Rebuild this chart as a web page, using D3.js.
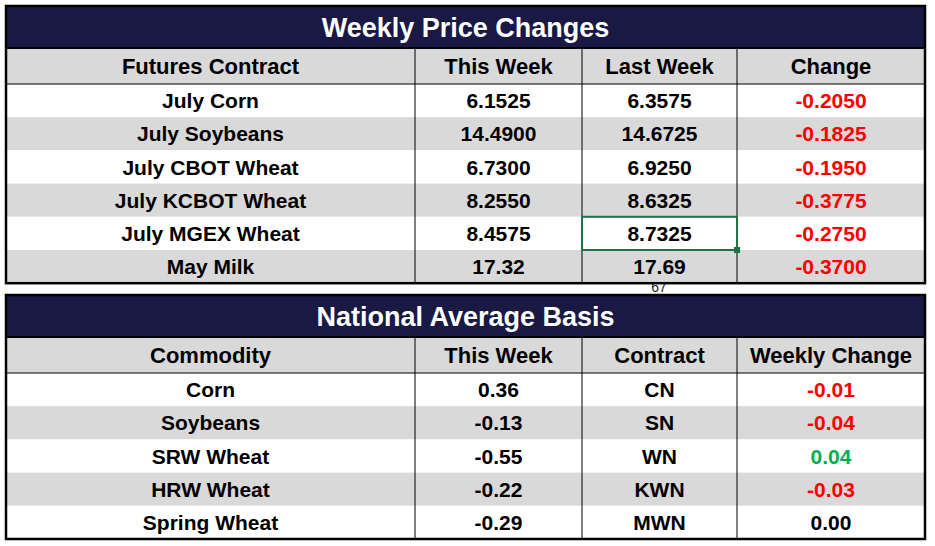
<!DOCTYPE html>
<html><head><meta charset="utf-8">
<script src="https://cdn.jsdelivr.net/npm/d3@7"></script>
<style>body{margin:0;background:#fff}text{font-family:"Liberation Sans",Arial,sans-serif;font-weight:bold}</style>
</head><body><svg id="chart" width="935" height="546"></svg>
<script>
const priceHeaders = ['Futures Contract', 'This Week', 'Last Week', 'Change'];
const contracts = ['July Corn', 'July Soybeans', 'July CBOT Wheat', 'July KCBOT Wheat', 'July MGEX Wheat', 'May Milk'];
const thisWeek = ['6.1525', '14.4900', '6.7300', '8.2550', '8.4575', '17.32'];
const lastWeek = ['6.3575', '14.6725', '6.9250', '8.6325', '8.7325', '17.69'];
const change = ['-0.2050', '-0.1825', '-0.1950', '-0.3775', '-0.2750', '-0.3700'];

const basisHeaders = ['Commodity', 'This Week', 'Contract', 'Weekly Change'];
const commodities = ['Corn', 'Soybeans', 'SRW Wheat', 'HRW Wheat', 'Spring Wheat'];
const basisWeek = ['0.36', '-0.13', '-0.55', '-0.22', '-0.29'];
const basisContract = ['CN', 'SN', 'WN', 'KWN', 'MWN'];
const basisChange = ['-0.01', '-0.04', '0.04', '-0.03', '0.00'];

const svg = d3.select('#chart');
const colEdges = [6, 415, 582, 737, 925];
const navy = '#191944', gray = '#d9d9d9';

function changeColor(v){
    const n = +v;
    return n < 0 ? '#ff0000' : n > 0 ? '#00b050' : '#000';
}

function drawTable({top, title, headers, rows}){
    const titleH = 42, headH = 36, rowH = 33.2;
    const bodyTop = top + titleH + headH;
    const y = d3.scaleBand().domain(d3.range(rows.length)).range([bodyTop, bodyTop + rowH * rows.length]);
    const bottom = bodyTop + rowH * rows.length;
    const g = svg.append('g');

    g.append('rect').attr('x', colEdges[0]).attr('y', top).attr('width', colEdges[4] - colEdges[0]).attr('height', titleH).attr('fill', navy);
    g.append('text').attr('x', (colEdges[0] + colEdges[4]) / 2).attr('y', top + titleH / 2).attr('dy', '0.36em')
        .attr('text-anchor', 'middle').attr('fill', '#fff').attr('font-size', 27).text(title);

    g.append('rect').attr('x', colEdges[0]).attr('y', top + titleH).attr('width', colEdges[4] - colEdges[0]).attr('height', headH).attr('fill', gray);
    g.selectAll('.hd').data(headers).enter().append('text')
        .attr('x', (d, i) => (colEdges[i] + colEdges[i + 1]) / 2)
        .attr('y', top + titleH + headH / 2).attr('dy', '0.36em')
        .attr('text-anchor', 'middle').attr('font-size', 22).text(d => d);

    g.selectAll('.row').data(rows).enter().append('rect')
        .attr('x', colEdges[0]).attr('y', (d, i) => y(i))
        .attr('width', colEdges[4] - colEdges[0]).attr('height', y.bandwidth())
        .attr('fill', (d, i) => i % 2 ? gray : '#fff');

    rows.forEach((r, i) => {
        g.selectAll(null).data(r).enter().append('text')
            .attr('x', (d, j) => (colEdges[j] + colEdges[j + 1]) / 2)
            .attr('y', y(i) + y.bandwidth() / 2).attr('dy', '0.36em')
            .attr('text-anchor', 'middle').attr('font-size', 21)
            .attr('fill', (d, j) => j === 3 ? changeColor(d) : '#000')
            .text(d => d);
    });

    // grid lines
    g.append('line').attr('x1', colEdges[0]).attr('x2', colEdges[4]).attr('y1', top + titleH).attr('y2', top + titleH).attr('stroke', '#000').attr('stroke-width', 2);
    g.append('line').attr('x1', colEdges[0]).attr('x2', colEdges[4]).attr('y1', bodyTop).attr('y2', bodyTop).attr('stroke', '#000').attr('stroke-width', 1);
    colEdges.slice(1, 4).forEach(x => {
        g.append('line').attr('x1', x).attr('x2', x).attr('y1', top + titleH).attr('y2', bottom).attr('stroke', '#000').attr('stroke-width', 1);
    });
    g.append('rect').attr('x', colEdges[0]).attr('y', top).attr('width', colEdges[4] - colEdges[0]).attr('height', bottom - top)
        .attr('fill', 'none').attr('stroke', '#000').attr('stroke-width', 2.5);
    return y;
}

const priceRows = contracts.map((c, i) => [c, thisWeek[i], lastWeek[i], change[i]]);
const basisRows = commodities.map((c, i) => [c, basisWeek[i], basisContract[i], basisChange[i]]);

// stray cell text peeking below first table
svg.append('text').attr('x', 659).attr('y', 292).attr('text-anchor', 'middle')
    .attr('font-size', 14).attr('font-weight', 'normal').style('font-weight', 'normal').attr('fill', '#222').text('67');

const y1 = drawTable({top: 6, title: 'Weekly Price Changes', headers: priceHeaders, rows: priceRows});
drawTable({top: 295, title: 'National Average Basis', headers: basisHeaders, rows: basisRows});

// excel selection box on MGEX last week
svg.append('rect').attr('x', colEdges[2]).attr('y', y1(4)).attr('width', colEdges[3] - colEdges[2]).attr('height', y1.bandwidth())
    .attr('fill', 'none').attr('stroke', '#217346').attr('stroke-width', 2);
svg.append('rect').attr('x', colEdges[3] - 3).attr('y', y1(4) + y1.bandwidth() - 3).attr('width', 6).attr('height', 6).attr('fill', '#217346');
</script></body></html>
